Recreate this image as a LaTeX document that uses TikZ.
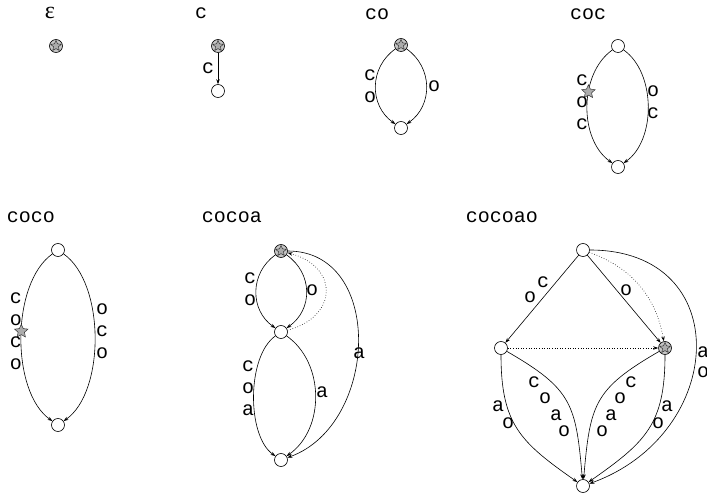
\documentclass[tikz,border=0pt]{standalone}
\usepackage{fontspec}
\setmainfont{Liberation Serif}
\setmonofont{Liberation Mono}
\usetikzlibrary{arrows.meta,shapes.geometric}
\tikzset{
    state/.style={
        circle,draw,line width=0.6pt,fill=white,
        inner sep=0pt,minimum size=13pt
    },
    starmark/.style={
        star,star points=5,star point ratio=2.1,draw=black!80,
        fill=gray!65,line width=0.5pt,inner sep=0pt,minimum size=14pt
    },
    rootstate/.style={
        state,fill=gray!45,label={[starmark,minimum size=11pt]center:}
    },
    edge/.style={
        -{Stealth[length=5pt,width=3.5pt]},line width=0.6pt
    },
    link/.style={edge,dotted},
    lbl/.style={
        font=\ttfamily\fontsize{20}{22}\selectfont,align=center,inner sep=0pt
    },
    word/.style={font=\ttfamily\fontsize{20}{22}\selectfont,inner sep=0pt}
}
\begin{document}
\begin{tikzpicture}[x=1pt,y=1pt]
\useasboundingbox (0,0) rectangle (707,496);

% empty word
\node[word,font=\rmfamily\fontsize{24}{24}\selectfont] (t-e) at (50,483) {ε};
\node[rootstate] (e0) at (56,450) {};

% c
\node[word] (t-c) at (201,483) {c};
\node[rootstate] (c0) at (218,450) {};
\node[state] (c1) at (218,405) {};
\draw[edge] (c0) -- (c1);
\node[lbl] (c-l1) at (208,428) {c};

% co
\node[word] (t-co) at (377,482) {co};
\node[rootstate] (co0) at (401,451) {};
\node[state] (co1) at (401,368) {};
\draw[edge] (co0) to[out=215,in=145,looseness=1.1] (co1);
\draw[edge] (co0) to[out=325,in=35,looseness=1.1] (co1);
\node[lbl] (co-l1) at (370,410) {c\\o};
\node[lbl] (co-l2) at (434,410) {o};

% coc
\node[word] (t-coc) at (588,482) {coc};
\node[state] (coc0) at (618,450) {};
\node[state] (coc1) at (618,329) {};
\draw[edge] (coc0) to[out=215,in=145,looseness=0.93]
    node[starmark,pos=0.39] (coc-s) {} (coc1);
\draw[edge] (coc0) to[out=325,in=35,looseness=0.9] (coc1);
\node[lbl] (coc-l1) at (582,394) {c\\o\\c};
\node[lbl] (coc-l2) at (653,394) {o\\c};

% coco
\node[word] (t-coco) at (31,279) {coco};
\node[state] (coco0) at (58,246) {};
\node[state] (coco1) at (58,71) {};
\draw[edge] (coco0) to[out=215,in=145,looseness=0.78]
    node[starmark,pos=0.47] (coco-s) {} (coco1);
\draw[edge] (coco0) to[out=325,in=35,looseness=0.78] (coco1);
\node[lbl] (coco-l1) at (16,164.5) {c\\o\\c\\o};
\node[lbl] (coco-l2) at (102,165) {o\\c\\o};

% cocoa
\node[word] (t-cocoa) at (232,279) {cocoa};
\node[rootstate] (cocoa0) at (281,245) {};
\node[state] (cocoa1) at (281,164) {};
\node[state] (cocoa2) at (281,36) {};
\draw[edge] (cocoa0) to[out=215,in=145,looseness=1.1] (cocoa1);
\draw[edge] (cocoa0) to[out=325,in=35,looseness=1.13] (cocoa1);
\draw[link] (cocoa1) to[out=15,in=-15,looseness=1.75] (cocoa0);
\draw[edge] (cocoa1) to[out=215,in=145,looseness=0.75] (cocoa2);
\draw[edge] (cocoa1) to[out=325,in=35,looseness=1.0] (cocoa2);
\draw[edge] (cocoa0) to[out=0,in=20,looseness=1.2] (cocoa2);
\node[lbl] (cocoa-l1) at (250,207) {c\\o};
\node[lbl] (cocoa-l2) at (312,206) {o};
\node[lbl] (cocoa-l3) at (248,108) {c\\o\\a};
\node[lbl] (cocoa-l4) at (322,104) {a};
\node[lbl] (cocoa-l5) at (359,143) {a};

% cocoao
\node[word] (t-cocoao) at (502,279) {cocoao};
\node[state] (cocoao0) at (583,246) {};
\node[state] (cocoao1) at (501,148) {};
\node[rootstate] (cocoao2) at (665,148) {};
\node[state] (cocoao3) at (583,10) {};
\draw[edge] (cocoao0) -- (cocoao1);
\draw[edge] (cocoao0) -- (cocoao2);
\draw[link] (cocoao0) to[out=-20,in=100] (cocoao2);
\draw[link] (cocoao1) -- (cocoao2);
\draw[edge] (cocoao0) to[out=0,in=20,looseness=1.6] (cocoao3);
\draw[edge] (cocoao1) to[out=270,in=145,looseness=1.2] (cocoao3);
\draw[edge] (cocoao1) to[out=-30,in=95,looseness=1.3] (cocoao3);
\draw[edge] (cocoao2) to[out=210,in=85,looseness=1.3] (cocoao3);
\draw[edge] (cocoao2) to[out=270,in=35,looseness=1.2] (cocoao3);
\foreach \ch/\px/\py [count=\i] in {c/543/214,o/530/199,o/626/206,
    a/498/90,o/508/73,c/534/114,o/545/98,a/556/81,o/564/65,
    c/631/114,o/620/98,a/611/81,o/602/65,a/667/90,o/658/73,
    a/703/144,o/703/124}
    \node[lbl] (cocoao-l\i) at (\px,\py) {\ch};

\end{tikzpicture}
\end{document}
